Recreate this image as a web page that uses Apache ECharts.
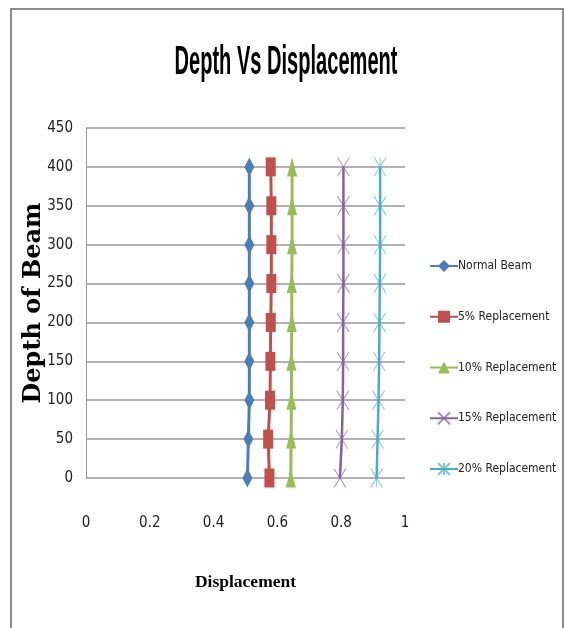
<!DOCTYPE html>
<html>
<head>
<meta charset="utf-8">
<script src="https://cdn.jsdelivr.net/npm/echarts@6/dist/echarts.min.js"></script>
<style>
  html, body { margin: 0; padding: 0; background: #fff; }
  #chart { width: 564px; height: 628px; }
</style>
</head>
<body>
<div id="chart"></div>
<script>
// depth of beam (y) and displacement (x) per series
const depths = [0, 50, 100, 150, 200, 250, 300, 350, 400]
const normalBeam = [0.506, 0.509, 0.512, 0.512, 0.512, 0.512, 0.512, 0.512, 0.512]
const rep5 = [0.575, 0.571, 0.577, 0.578, 0.579, 0.581, 0.581, 0.581, 0.579]
const rep10 = [0.642, 0.643, 0.644, 0.644, 0.645, 0.645, 0.646, 0.646, 0.646]
const rep15 = [0.796, 0.802, 0.805, 0.806, 0.806, 0.807, 0.807, 0.807, 0.807]
const rep20 = [0.911, 0.914, 0.917, 0.919, 0.92, 0.921, 0.922, 0.922, 0.922]

const seriesNames = ['Normal Beam', '5% Replacement', '10% Replacement', '15% Replacement', '20% Replacement']
const colors = ['#4A7EBB', '#C0504D', '#9BBB59', '#8064A2', '#4BACC6']

const narrow = "'DejaVu Sans Condensed', 'Liberation Sans', sans-serif"

// x / asterisk markers are stroke-only paths
const xMark = 'path://M0,0L10,20M10,0L0,20'
const starMark = 'path://M0,0L10,20M10,0L0,20M5,0L5,20'

const pairs = vals => vals.map((v, i) => [v, depths[i]])

// title font is condensed in the original, squeeze it to the same width
const titleText = 'Depth Vs Displacement'
const titleFont = 'bold 41px "Liberation Sans"'
const ctx = document.createElement('canvas').getContext('2d')
ctx.font = titleFont
const titleScale = 223 / ctx.measureText(titleText).width

const chart = echarts.init(document.getElementById('chart'))

const mkSeries = (i, vals, symbol, size, width, stroke) => ({
    name: seriesNames[i],
    type: 'line',
    data: pairs(vals),
    symbol: symbol,
    symbolSize: size,
    showAllSymbol: true,
    lineStyle: { color: colors[i], width: width },
    itemStyle: stroke
        ? { color: 'rgba(0,0,0,0)', borderColor: colors[i], borderWidth: 1, opacity: 0.7 }
        : { color: colors[i] },
    emphasis: { disabled: true },
    animation: false
})

chart.setOption({
    backgroundColor: '#fff',
    graphic: [{
        type: 'rect',
        shape: { x: 11, y: 9, width: 552, height: 700 },
        style: { fill: 'none', stroke: '#8c8c8c', lineWidth: 2 },
        silent: true
    }, {
        type: 'text',
        x: 286,
        y: 63,
        scaleX: titleScale,
        style: {
            text: titleText,
            font: titleFont,
            fill: '#000',
            align: 'center',
            verticalAlign: 'middle'
        },
        silent: true
    }],
    grid: { left: 86, right: 159, top: 128, bottom: 150 },
    legend: {
        orient: 'vertical',
        left: 424,
        top: 253,
        itemGap: 34.75,
        itemWidth: 28,
        itemHeight: 15,
        data: seriesNames,
        textStyle: { fontFamily: narrow, fontSize: 12, color: '#222', lineHeight: 16, padding: [0, 0, 0, -5] }
    },
    xAxis: {
        type: 'value',
        min: 0,
        max: 1,
        interval: 0.2,
        name: 'Displacement',
        nameLocation: 'middle',
        nameGap: 95,
        nameTextStyle: { fontFamily: 'Liberation Serif', fontWeight: 'bold', fontSize: 17.5, color: '#000' },
        axisLine: { show: false },
        axisTick: { show: false },
        splitLine: { show: false },
        axisLabel: { margin: 38, fontFamily: narrow, fontSize: 15, color: '#222' }
    },
    yAxis: {
        type: 'value',
        min: 0,
        max: 450,
        interval: 50,
        name: 'Depth of Beam',
        nameLocation: 'middle',
        nameGap: 40,
        nameMoveOverlap: false,
        nameTextStyle: { fontFamily: 'DejaVu Serif', fontWeight: 'bold', fontSize: 24, color: '#000' },
        axisLine: { show: true, lineStyle: { color: '#999', width: 1 } },
        axisTick: { show: false },
        splitLine: { lineStyle: { color: '#999', width: 1.5 } },
        axisLabel: { margin: 13, fontFamily: narrow, fontSize: 15, color: '#222' }
    },
    series: [
        mkSeries(0, normalBeam, 'diamond', [10, 19], 3),
        mkSeries(1, rep5, 'rect', [10, 19], 3),
        mkSeries(2, rep10, 'triangle', [10, 19], 3),
        mkSeries(3, rep15, xMark, [12, 19], 2.5, true),
        mkSeries(4, rep20, starMark, [12, 19], 2.5, true)
    ]
})
</script>
</body>
</html>
